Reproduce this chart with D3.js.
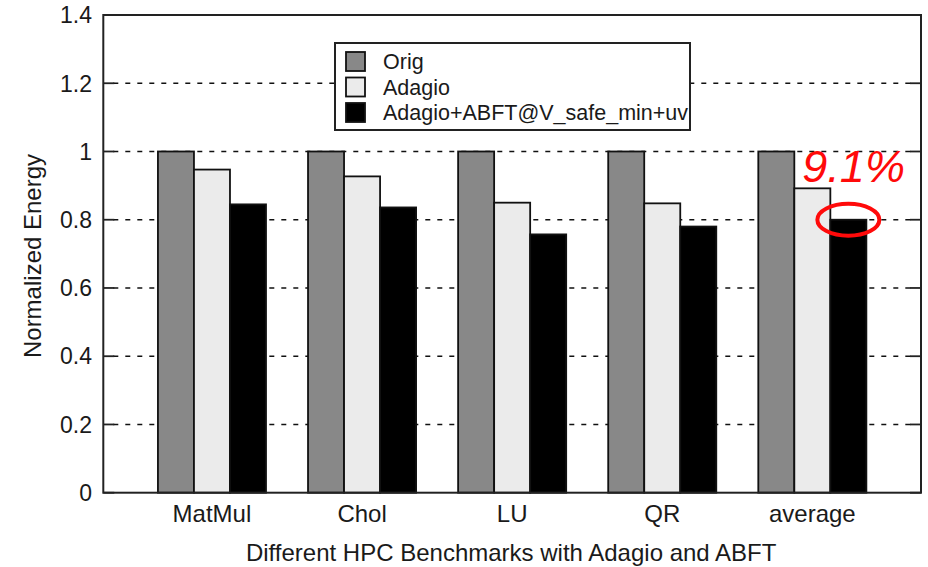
<!DOCTYPE html>
<html>
<head>
<meta charset="utf-8">
<script src="https://cdn.jsdelivr.net/npm/d3@7"></script>
<style>
  html, body { margin: 0; padding: 0; background: #fff; }
  svg { display: block; font-family: "Liberation Sans", Arial, Helvetica, sans-serif; }
</style>
</head>
<body>
<svg id="chart" width="928" height="567"></svg>
<script>
// ---- data ----
const categories = ["MatMul", "Chol", "LU", "QR", "average"];
const seriesNames = ["Orig", "Adagio", "Adagio+ABFT@V_safe_min+uv"];
const origValues = [1.0, 1.0, 1.0, 1.0, 1.0];
const adagioValues = [0.947, 0.927, 0.85, 0.848, 0.892];
const abftValues = [0.845, 0.836, 0.757, 0.78, 0.80];
const yTicks = [0, 0.2, 0.4, 0.6, 0.8, 1, 1.2, 1.4];
const yTickLabels = ["0", "0.2", "0.4", "0.6", "0.8", "1", "1.2", "1.4"];
const annotationText = "9.1%";
const xTitle = "Different HPC Benchmarks with Adagio and ABFT";
const yTitle = "Normalized Energy";

// ---- styles ----
const fills = ["#888888", "#ebebeb", "#000000"];
const series = [origValues, adagioValues, abftValues];

const svg = d3.select("#chart");
const plot = { left: 103.3, right: 921, top: 15, bottom: 492.7 };

const x = d3.scaleLinear().domain([-0.724, 4.724]).range([plot.left, plot.right]);
const y = d3.scaleLinear().domain([0, 1.4]).range([plot.bottom, plot.top]);
const barW = 0.24; // in x units
const offsets = [-1, 0, 1];

// gridlines (dashed) behind bars
const gridG = svg.append("g");
yTicks.filter(t => t > 0 && t < 1.4).forEach(t => {
  gridG.append("line")
    .attr("x1", plot.left + 10).attr("x2", plot.right - 10)
    .attr("y1", y(t)).attr("y2", y(t))
    .attr("stroke", "#111").attr("stroke-width", 1.6)
    .attr("stroke-dasharray", "5,7");
});

// tick marks left and right
const tickG = svg.append("g");
yTicks.forEach(t => {
  tickG.append("line").attr("x1", plot.left).attr("x2", plot.left + 11)
    .attr("y1", y(t)).attr("y2", y(t)).attr("stroke", "#222").attr("stroke-width", 1.8);
  tickG.append("line").attr("x1", plot.right - 11).attr("x2", plot.right)
    .attr("y1", y(t)).attr("y2", y(t)).attr("stroke", "#222").attr("stroke-width", 1.8);
});

// bars
const barG = svg.append("g");
series.forEach((vals, si) => {
  barG.selectAll(null).data(vals).enter().append("rect")
    .attr("x", (d, i) => x(i + offsets[si] * barW - barW / 2))
    .attr("width", x(barW) - x(0))
    .attr("y", d => y(d))
    .attr("height", d => y(0) - y(d))
    .attr("fill", fills[si])
    .attr("stroke", "#111")
    .attr("stroke-width", 1.8);
});

// frame
svg.append("rect")
  .attr("x", plot.left).attr("y", plot.top)
  .attr("width", plot.right - plot.left).attr("height", plot.bottom - plot.top)
  .attr("fill", "none").attr("stroke", "#222").attr("stroke-width", 2);

// y tick labels
svg.append("g").selectAll("text").data(yTicks).enter().append("text")
  .attr("x", 92).attr("y", d => y(d)).attr("dy", "0.36em")
  .attr("text-anchor", "end").attr("font-size", 23).attr("fill", "#1a1a1a")
  .text((d, i) => yTickLabels[i]);

// x tick labels
svg.append("g").selectAll("text").data(categories).enter().append("text")
  .attr("x", (d, i) => x(i)).attr("y", 522)
  .attr("text-anchor", "middle").attr("font-size", 24).attr("fill", "#1a1a1a")
  .text(d => d);

// axis titles
svg.append("text")
  .attr("x", (plot.left + plot.right) / 2 - 1).attr("y", 561)
  .attr("text-anchor", "middle").attr("font-size", 24).attr("fill", "#1a1a1a")
  .text(xTitle);

svg.append("text")
  .attr("transform", `translate(41, ${256}) rotate(-90)`)
  .attr("text-anchor", "middle").attr("font-size", 24).attr("fill", "#1a1a1a")
  .text(yTitle);

// legend
const lg = svg.append("g");
lg.append("rect").attr("x", 335).attr("y", 43).attr("width", 355).attr("height", 87)
  .attr("fill", "#fff").attr("stroke", "#222").attr("stroke-width", 2);
seriesNames.forEach((name, i) => {
  const cy = 61.5 + i * 25.5;
  lg.append("rect").attr("x", 346).attr("y", cy - 9.5).attr("width", 19).attr("height", 19)
    .attr("fill", fills[i]).attr("stroke", "#111").attr("stroke-width", 1.8);
  lg.append("text").attr("x", 383).attr("y", cy + 7.5)
    .attr("font-size", 21.5).attr("fill", "#1a1a1a").text(name);
});

// annotation
const ax = x(4 + barW);
const ay = y(abftValues[4]);
svg.append("ellipse")
  .attr("cx", ax).attr("cy", ay)
  .attr("rx", 31).attr("ry", 16)
  .attr("fill", "none").attr("stroke", "#ff0a0a").attr("stroke-width", 4);
svg.append("text")
  .attr("x", ax - 46).attr("y", y(1) + 31)
  .attr("font-size", 45).attr("font-style", "italic").attr("fill", "#ff0a0a")
  .text(annotationText);
</script>
</body>
</html>
